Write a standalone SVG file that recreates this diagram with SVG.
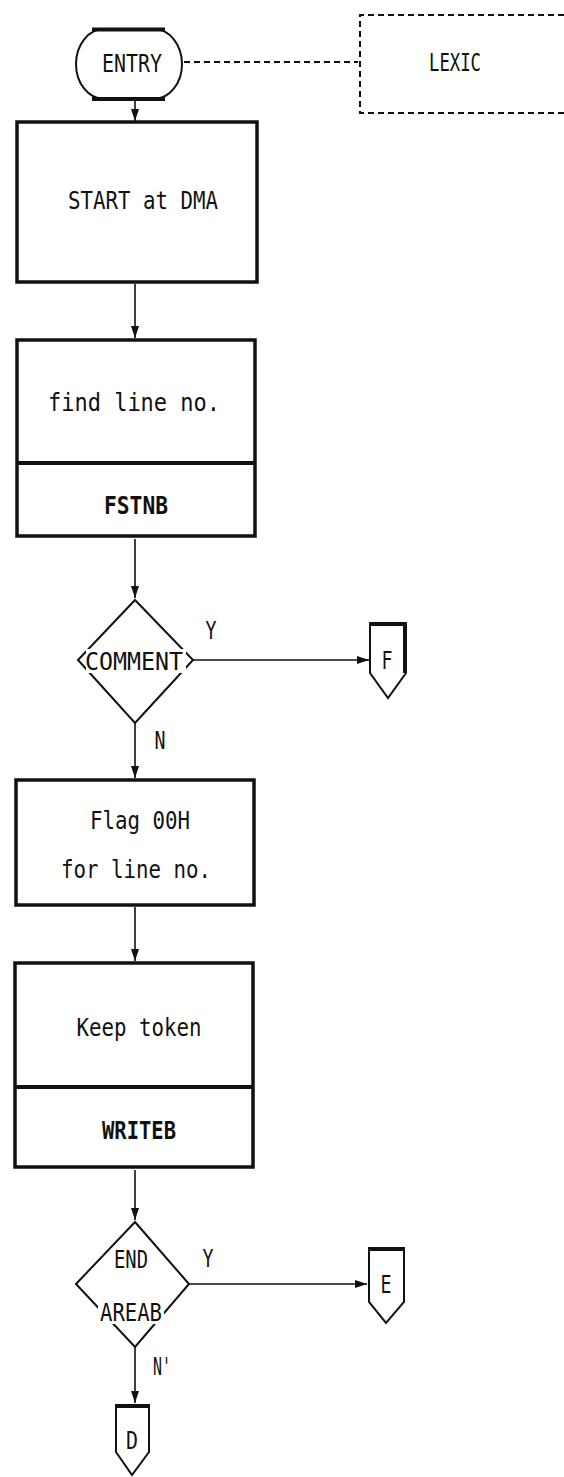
<svg xmlns="http://www.w3.org/2000/svg" width="564" height="1477" viewBox="0 0 564 1477">
<defs>
<marker id="ahd" viewBox="0 0 10 10" refX="10" refY="5" markerWidth="12" markerHeight="8" orient="auto" markerUnits="userSpaceOnUse" preserveAspectRatio="none">
<path d="M0,0 L10,5 L0,10 Z" fill="#111"/>
</marker>
</defs>
<style>
.box{fill:#fff;stroke:#111;stroke-width:3.5}
.thin{fill:none;stroke:#111;stroke-width:2}
.conn{fill:none;stroke:#111;stroke-width:1.6}
.dash{fill:none;stroke:#111;stroke-width:2;stroke-dasharray:6 4}
.t{font-family:"DejaVu Sans Mono","Liberation Mono",monospace;font-size:24px;fill:#111;text-anchor:middle}
.b{font-weight:bold}
</style>
<rect width="564" height="1477" fill="#fff"/>
<g id="connectors">
<line class="dash" x1="184" y1="62" x2="358" y2="62"/>
<line class="conn" x1="135" y1="101" x2="135" y2="121" marker-end="url(#ahd)"/>
<line class="conn" x1="135" y1="284" x2="135" y2="338" marker-end="url(#ahd)"/>
<line class="conn" x1="135" y1="539" x2="135" y2="598" marker-end="url(#ahd)"/>
<line class="conn" x1="193" y1="660" x2="369" y2="660" marker-end="url(#ahd)"/>
<line class="conn" x1="135" y1="723" x2="135" y2="778" marker-end="url(#ahd)"/>
<line class="conn" x1="135" y1="907" x2="135" y2="961" marker-end="url(#ahd)"/>
<line class="conn" x1="135" y1="1170" x2="135" y2="1220" marker-end="url(#ahd)"/>
<line class="conn" x1="189" y1="1284" x2="367" y2="1284" marker-end="url(#ahd)"/>
<line class="conn" x1="135" y1="1347" x2="135" y2="1403" marker-end="url(#ahd)"/>
<text class="t" x="211" y="639" textLength="11" lengthAdjust="spacingAndGlyphs">Y</text>
<text class="t" x="160" y="749" textLength="11" lengthAdjust="spacingAndGlyphs">N</text>
<text class="t" x="208" y="1267" textLength="11" lengthAdjust="spacingAndGlyphs">Y</text>
<text class="t" x="162" y="1375" textLength="18" lengthAdjust="spacingAndGlyphs">N'</text>
</g>
<g id="entry">
<rect x="76" y="29" width="106" height="70" rx="28" ry="35" class="thin"/>
<line x1="92" y1="29.5" x2="165" y2="29.5" stroke="#111" stroke-width="4"/>
<line x1="92" y1="99" x2="165" y2="99" stroke="#111" stroke-width="4"/>
<text class="t" x="132" y="72" textLength="60" lengthAdjust="spacingAndGlyphs">ENTRY</text>
</g>
<g id="lexic">
<path class="dash" d="M564,15 H360 V113 H564"/>
<text class="t" x="455" y="71" textLength="52" lengthAdjust="spacingAndGlyphs">LEXIC</text>
</g>
<g id="start">
<rect class="box" x="17" y="122" width="240" height="160"/>
<text class="t" x="143" y="209" textLength="150" lengthAdjust="spacingAndGlyphs">START at DMA</text>
</g>
<g id="findline">
<rect class="box" x="17" y="340" width="238" height="196"/>
<line x1="17" y1="463" x2="255" y2="463" stroke="#111" stroke-width="4"/>
<text class="t" x="134" y="411" textLength="172" lengthAdjust="spacingAndGlyphs">find line no.</text>
<text class="t b" x="136" y="514" textLength="64" lengthAdjust="spacingAndGlyphs">FSTNB</text>
</g>
<g id="comment">
<path class="thin" d="M135,600 L193,660 L135,723 L78,660 Z" stroke-width="2.5"/>
<rect x="86" y="649" width="100" height="24" fill="#fff"/>
<text class="t" x="134" y="670" textLength="98" lengthAdjust="spacingAndGlyphs">COMMENT</text>
</g>
<g id="connF">
<path class="thin" d="M370,623 H406 V673 L388,698 L370,673 Z" stroke-width="2"/>
<line x1="370" y1="624" x2="406" y2="624" stroke="#111" stroke-width="4"/>
<line x1="405" y1="623" x2="405" y2="673" stroke="#111" stroke-width="4"/>
<text class="t" x="387" y="669" textLength="11" lengthAdjust="spacingAndGlyphs">F</text>
</g>
<g id="flag">
<rect class="box" x="16" y="780" width="238" height="125"/>
<text class="t" x="140" y="829" textLength="100" lengthAdjust="spacingAndGlyphs">Flag 00H</text>
<text class="t" x="136" y="878" textLength="150" lengthAdjust="spacingAndGlyphs">for line no.</text>
</g>
<g id="keep">
<rect class="box" x="15" y="963" width="238" height="204"/>
<line x1="15" y1="1087" x2="253" y2="1087" stroke="#111" stroke-width="4"/>
<text class="t" x="139" y="1036" textLength="125" lengthAdjust="spacingAndGlyphs">Keep token</text>
<text class="t b" x="139" y="1139" textLength="74" lengthAdjust="spacingAndGlyphs">WRITEB</text>
</g>
<g id="endareab">
<path class="thin" d="M135,1222 L189,1284 L135,1347 L76,1284 Z" stroke-width="2.5"/>
<rect x="98" y="1300" width="66" height="24" fill="#fff"/>
<text class="t" x="131" y="1268" textLength="34" lengthAdjust="spacingAndGlyphs">END</text>
<text class="t" x="131" y="1321" textLength="62" lengthAdjust="spacingAndGlyphs">AREAB</text>
</g>
<g id="connE">
<path class="thin" d="M369,1248 H404 V1302 L386,1323 L369,1302 Z" stroke-width="2"/>
<line x1="369" y1="1249" x2="404" y2="1249" stroke="#111" stroke-width="4"/>
<text class="t" x="386" y="1293" textLength="11" lengthAdjust="spacingAndGlyphs">E</text>
</g>
<g id="connD">
<path class="thin" d="M116,1405 H149 V1452 L132,1475 L116,1452 Z" stroke-width="2"/>
<line x1="116" y1="1406" x2="149" y2="1406" stroke="#111" stroke-width="4"/>
<text class="t" x="132" y="1449" textLength="12" lengthAdjust="spacingAndGlyphs">D</text>
</g>
</svg>
